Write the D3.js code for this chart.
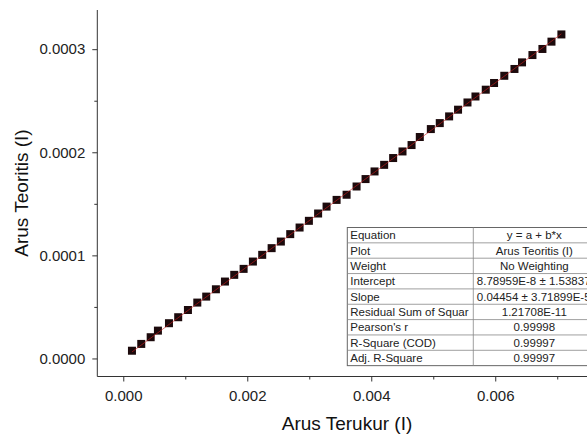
<!DOCTYPE html>
<html>
<head>
<meta charset="utf-8">
<script src="https://cdn.jsdelivr.net/npm/d3@7/dist/d3.min.js"></script>
<style>
  body { margin: 0; background: #fff; }
  svg { display: block; font-family: Arial, "Liberation Sans", sans-serif; }
</style>
</head>
<body>
<svg id="chart" width="587" height="437"></svg>
<script>
// measured current (x) vs theoretical current (y)
var arusTerukur = [0.000140, 0.000290, 0.000442, 0.000559, 0.000737, 0.000886, 0.001043, 0.001194,
  0.001338, 0.001494, 0.001640, 0.001790, 0.001941, 0.002091, 0.002241, 0.002393, 0.002542,
  0.002693, 0.002844, 0.002994, 0.003143, 0.003279, 0.003441, 0.003602, 0.003763, 0.003908,
  0.004053, 0.004208, 0.004353, 0.004504, 0.004650, 0.004783, 0.004961, 0.005105, 0.005256,
  0.005400, 0.005552, 0.005681, 0.005847, 0.005981, 0.006146, 0.006310, 0.006432, 0.006600,
  0.006761, 0.006907, 0.007067];
var arusTeoritis = [0.0000075, 0.0000141, 0.0000206, 0.0000270, 0.0000342, 0.0000400, 0.0000470,
  0.0000542, 0.0000600, 0.0000671, 0.0000746, 0.0000811, 0.0000869, 0.0000940, 0.0001005,
  0.0001070, 0.0001134, 0.0001206, 0.0001270, 0.0001335, 0.0001406, 0.0001473, 0.0001538,
  0.0001588, 0.0001668, 0.0001740, 0.0001814, 0.0001878, 0.0001944, 0.0002008, 0.0002070,
  0.0002148, 0.0002225, 0.0002283, 0.0002348, 0.0002413, 0.0002483, 0.0002541, 0.0002607,
  0.0002672, 0.0002742, 0.0002808, 0.0002872, 0.0002943, 0.0003002, 0.0003073, 0.0003143];

var xMajorTicks = [0, 0.002, 0.004, 0.006];
var xMinorTicks = [0.001, 0.003, 0.005, 0.007];
var yMajorTicks = [0, 0.0001, 0.0002, 0.0003];
var yMinorTicks = [0.00005, 0.00015, 0.00025];

// linear fit results
var fitIntercept = 8.78959E-8;
var fitSlope = 0.04454;
var tableLabels = ["Equation", "Plot", "Weight", "Intercept", "Slope",
  "Residual Sum of Squar", "Pearson's r", "R-Square (COD)", "Adj. R-Square"];
var tableValues = ["y = a + b*x", "Arus Teoritis (I)", "No Weighting",
  "8.78959E-8 \u00b1 1.53837E-7", "0.04454 \u00b1 3.71899E-5", "1.21708E-11",
  "0.99998", "0.99997", "0.99997"];

var svg = d3.select("#chart");

// axis ranges (pixel positions of left and bottom axes)
var x = d3.scaleLinear().domain([-0.000419, 0.00748]).range([97.3, 587]);
var y = d3.scaleLinear().domain([-0.0000175, 0.000338]).range([376.5, 10]);

// x axis
svg.append("g").attr("class", "xaxis").attr("transform", "translate(0,376.5)")
  .call(d3.axisBottom(x).tickValues(xMajorTicks).tickSize(5).tickPadding(9)
  .tickFormat(d3.format(".3f")));
svg.append("g").attr("transform", "translate(0,376.5)")
  .call(d3.axisBottom(x).tickValues(xMinorTicks).tickSize(3).tickFormat(""))
  .select(".domain").remove();

// y axis
svg.append("g").attr("class", "yaxis").attr("transform", "translate(97.3,0)")
  .call(d3.axisLeft(y).tickValues(yMajorTicks).tickSize(5).tickPadding(7)
  .tickFormat(d3.format(".4f")));
svg.append("g").attr("transform", "translate(97.3,0)")
  .call(d3.axisLeft(y).tickValues(yMinorTicks).tickSize(3).tickFormat(""))
  .select(".domain").remove();

svg.select(".xaxis .domain").attr("d", "M97.3,0H587");
svg.select(".yaxis .domain").attr("d", "M0,10V376.5");
svg.selectAll(".domain, .tick line").attr("stroke", "#333").attr("stroke-width", 1);
svg.selectAll(".tick text").attr("fill", "#222").style("font-size", "15px")
  .style("font-family", "Arial, 'Liberation Sans', sans-serif");

// axis titles
svg.append("text").attr("x", 347).attr("y", 430).attr("text-anchor", "middle")
  .style("font-size", "19px").attr("fill", "#111").text("Arus Terukur (I)");
svg.append("text").attr("transform", "translate(28,193) rotate(-90)")
  .attr("text-anchor", "middle").style("font-size", "19px").attr("fill", "#111")
  .text("Arus Teoritis (I)");

// data points
var pts = arusTerukur.map(function(d, i) { return [d, arusTeoritis[i]]; });
var sz = 8;
svg.append("g").selectAll("rect").data(pts).enter().append("rect")
  .attr("x", function(d) { return x(d[0]) - sz / 2; })
  .attr("y", function(d) { return y(d[1]) - sz / 2; })
  .attr("width", sz).attr("height", sz)
  .attr("fill", "#1c0a0c");

// fit line
var x0 = d3.min(arusTerukur), x1 = d3.max(arusTerukur);
svg.append("line")
  .attr("x1", x(x0)).attr("y1", y(fitIntercept + fitSlope * x0))
  .attr("x2", x(x1)).attr("y2", y(fitIntercept + fitSlope * x1))
  .attr("stroke", "#d02020").attr("stroke-width", 1).attr("opacity", 0.6);

// fit results table (second column runs past the right edge, as in the original)
var tLeft = 347.3, tTop = 227.5, rowH = 15.35, col1W = 126, col2W = 122;
var table = svg.append("g");
table.append("rect").attr("x", tLeft).attr("y", tTop)
  .attr("width", col1W + col2W).attr("height", rowH * tableLabels.length)
  .attr("fill", "#fff").attr("stroke", "#666").attr("stroke-width", 1);
tableLabels.forEach(function(lab, i) {
  if (i > 0) {
    table.append("line").attr("x1", tLeft).attr("x2", tLeft + col1W + col2W)
      .attr("y1", tTop + i * rowH).attr("y2", tTop + i * rowH)
      .attr("stroke", "#888").attr("stroke-width", 0.8);
  }
  table.append("text").attr("x", tLeft + 3).attr("y", tTop + i * rowH + 11.8)
    .style("font-size", "11.5px").attr("fill", "#222").text(lab);
  var v = table.append("text").attr("x", tLeft + col1W + col2W / 2)
    .attr("y", tTop + i * rowH + 11.8)
    .attr("text-anchor", "middle").style("font-size", "11.5px").attr("fill", "#222")
    .text(tableValues[i]);
  // text wider than its cell starts at the cell's left edge
  if (v.node().getComputedTextLength() > col2W - 10) {
    v.attr("text-anchor", "start").attr("x", tLeft + col1W + 3.5);
  }
});
table.append("line").attr("x1", tLeft + col1W).attr("x2", tLeft + col1W)
  .attr("y1", tTop).attr("y2", tTop + rowH * tableLabels.length)
  .attr("stroke", "#888").attr("stroke-width", 0.8);
</script>
</body>
</html>
